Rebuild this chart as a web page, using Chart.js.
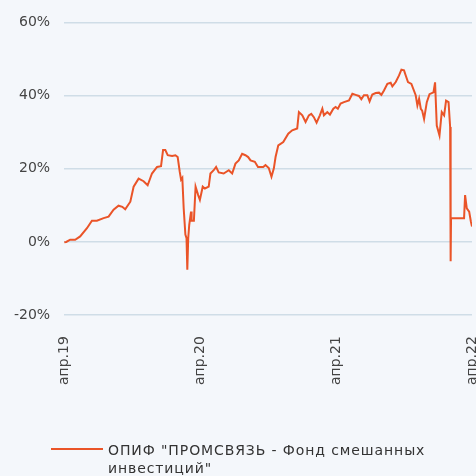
<!DOCTYPE html>
<html>
<head>
<meta charset="utf-8">
<script src="https://cdn.jsdelivr.net/npm/chart.js@4.4.1/dist/chart.umd.min.js"></script>
<style>
  html, body { margin: 0; padding: 0; background: #f4f7fb; }
  #wrap { position: relative; width: 476px; height: 476px; }
  #legend { position: absolute; left: 0; top: 0; width: 476px; height: 476px; pointer-events: none; }
  #legend .swatch { position: absolute; left: 51px; top: 448px; width: 52px; height: 2px; }
  #legend .label {
    position: absolute; left: 108px; top: 441px; width: 345px;
    font: 14px/18px 'DejaVu Sans', sans-serif; letter-spacing: 0.9px; color: #333;
  }
</style>
</head>
<body>
<div id="wrap">
  <canvas id="fundChart" width="476" height="476"></canvas>
  <div id="legend"><div class="swatch"></div><div class="label"></div></div>
</div>
<script>
// months since April 2019
const months = [
  0, 0.18, 0.53, 0.97, 1.41, 2.01, 2.45, 2.89, 3.48, 3.92,
  4.36, 4.80, 5.13, 5.39, 5.84, 6.13, 6.57, 7.01, 7.37, 7.75,
  8.20, 8.55, 8.73, 8.93, 9.14, 9.53, 9.82, 10.02, 10.20, 10.32,
  10.43, 10.55, 10.70, 10.80, 10.87, 10.95, 11.04, 11.20, 11.25, 11.45,
  11.60, 11.83, 11.98, 12.23, 12.42, 12.76, 12.91, 13.20, 13.41, 13.64,
  14.08, 14.53, 14.83, 15.12, 15.41, 15.71, 16.00, 16.24, 16.45, 16.83,
  17.11, 17.57, 17.77, 18.06, 18.30, 18.51, 18.66, 18.90, 19.34, 19.78,
  20.13, 20.57, 20.72, 21.02, 21.31, 21.60, 21.81, 22.04, 22.28, 22.57,
  22.79, 22.93, 23.23, 23.46, 23.76, 23.96, 24.16, 24.40, 24.70, 25.14,
  25.44, 25.73, 26.02, 26.23, 26.46, 26.76, 26.96, 27.20, 27.50, 27.79,
  28.00, 28.23, 28.53, 28.82, 28.97, 29.27, 29.56, 29.77, 30.00, 30.15,
  30.35, 30.65, 31.03, 31.18, 31.33, 31.48, 31.60, 31.77, 32.01, 32.25,
  32.60, 32.74, 32.89, 33.13, 33.33, 33.54, 33.71, 33.93, 34.07, 34.10,
  34.13, 34.15, 35.30, 35.39, 35.54, 35.75, 35.90, 36.0
];

// fund return, %
const returns = [
  -0.1, 0, 0.6, 0.6, 1.5, 3.75, 5.8, 5.8, 6.5, 6.9,
  8.8, 9.9, 9.6, 8.9, 11.0, 15.1, 17.3, 16.6, 15.5, 18.7,
  20.5, 20.7, 25.1, 25.1, 23.7, 23.5, 23.7, 23.2, 19.2, 17.0,
  17.5, 9.2, 2.0, 1.0, -7.6, 1.0, 4.7, 8.3, 5.8, 5.8,
  15.1, 12.8, 11.5, 15.1, 14.6, 15.1, 18.7, 19.6, 20.5, 19.0,
  18.7, 19.6, 18.7, 21.4, 22.3, 24.1, 23.7, 23.2, 22.3, 21.9,
  20.5, 20.5, 21.0, 20.2, 17.8, 20.1, 23.2, 26.4, 27.3, 29.6,
  30.5, 31.0, 35.5, 34.6, 32.8, 34.6, 35.0, 34.1, 32.6, 34.6,
  36.4, 34.6, 35.5, 34.8, 36.4, 36.9, 36.4, 37.8, 38.2, 38.7,
  40.5, 40.2, 39.9, 39.0, 40.1, 40.1, 38.4, 40.3, 40.7, 40.8,
  40.2, 41.4, 43.2, 43.5, 42.5, 43.7, 45.5, 47.1, 46.9, 45.5,
  43.7, 43.2, 40.1, 37.3, 39.1, 36.4, 35.9, 33.6, 38.2, 40.4,
  40.9, 43.6, 31.8, 29.1, 35.5, 34.6, 38.6, 38.2, 31.4, 21.4,
  -5.3, 6.5, 6.5, 12.8, 9.2, 8.3, 5.6, 4.2
];

const tickMonths = [0, 12, 24, 36];
const tickLabels = ["апр.19", "апр.20", "апр.21", "апр.22"];
const fundName = 'ОПИФ "ПРОМСВЯЗЬ - Фонд смешанных инвестиций"';

const lineColor = "#ea5428";
const fontFamily = "'DejaVu Sans', sans-serif";

const points = months.map((m, i) => ({ x: m, y: returns[i] }));

// legend drawn as html so the long fund name wraps like the original
document.querySelector("#legend .swatch").style.background = lineColor;
document.querySelector("#legend .label").textContent = fundName;

new Chart(document.getElementById("fundChart"), {
  type: "line",
  data: {
    datasets: [
      {
        label: fundName,
        data: points,
        borderColor: lineColor,
        backgroundColor: lineColor,
        borderWidth: 2,
        pointRadius: 0,
        tension: 0
      }
    ]
  },
  options: {
    responsive: false,
    animation: false,
    layout: { padding: { left: 0, right: 4, top: 8, bottom: 78 } },
    scales: {
      x: {
        type: "linear",
        min: 0,
        max: 36,
        afterBuildTicks: axis => {
          axis.ticks = tickMonths.map(v => ({ value: v }));
        },
        afterFit: axis => {
          axis.paddingLeft = 0;
          axis.paddingRight = 0;
        },
        ticks: {
          minRotation: 90,
          maxRotation: 90,
          padding: 13,
          color: "#444",
          font: { family: fontFamily, size: 14 },
          callback: value => tickLabels[tickMonths.indexOf(value)]
        },
        grid: { display: false },
        border: { display: false }
      },
      y: {
        min: -20,
        max: 60,
        ticks: {
          stepSize: 20,
          padding: 14,
          color: "#444",
          font: { family: fontFamily, size: 14 },
          callback: value => value + "%"
        },
        grid: { color: "#cfdde7", lineWidth: 1.5, drawTicks: false },
        border: { display: false }
      }
    },
    plugins: {
      legend: { display: false },
      tooltip: { enabled: false }
    }
  }
});
</script>
</body>
</html>
